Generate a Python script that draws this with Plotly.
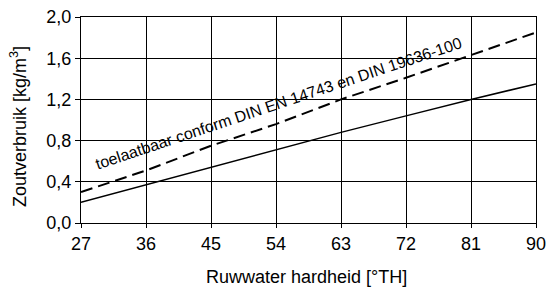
import plotly.graph_objects as go

hardness = [27, 36, 45, 54, 63, 72, 81, 90]
salt_actual = [0.20, 0.37, 0.54, 0.71, 0.88, 1.04, 1.20, 1.35]
salt_allowed = [0.30, 0.51, 0.75, 0.96, 1.20, 1.41, 1.63, 1.85]
x_ticks = [27, 36, 45, 54, 63, 72, 81, 90]
y_ticks = [0.0, 0.4, 0.8, 1.2, 1.6, 2.0]
y_tick_labels = ["0,0", "0,4", "0,8", "1,2", "1,6", "2,0"]
note = "toelaatbaar conform DIN EN 14743 en DIN 19636-100"
x_title = "Ruwwater hardheid [°TH]"
y_title = "Zoutverbruik [kg/m<sup>3</sup>]"

FONT = "Liberation Sans, Arial, sans-serif"

fig = go.Figure()
fig.add_trace(go.Scatter(x=hardness, y=salt_allowed, mode="lines",
                         line=dict(color="black", width=2, dash="12px,6px"),
                         showlegend=False))
fig.add_trace(go.Scatter(x=hardness, y=salt_actual, mode="lines",
                         line=dict(color="black", width=1.5),
                         showlegend=False))

fig.add_annotation(x=54.3, y=1.16, text=note, showarrow=False, textangle=-18.5,
                   font=dict(family=FONT, size=16, color="black"))
fig.add_annotation(xref="paper", yref="paper", x=0, y=0.5, xshift=-63, yshift=-7,
                   text=y_title, showarrow=False, textangle=-90,
                   xanchor="center", yanchor="middle",
                   font=dict(family=FONT, size=18, color="black"))
fig.add_annotation(xref="paper", yref="paper", x=0.5, y=0, yshift=-54, xshift=-2,
                   text=x_title, showarrow=False,
                   xanchor="center", yanchor="middle",
                   font=dict(family=FONT, size=18, color="black"))

fig.update_layout(
    width=548, height=289,
    margin=dict(l=81, r=12, t=17, b=66),
    paper_bgcolor="white", plot_bgcolor="white",
    font=dict(family=FONT, size=18, color="black"),
    hovermode=False,
)
fig.update_xaxes(range=[27, 90], tickvals=x_ticks, ticktext=[str(v) for v in x_ticks],
                 showgrid=True, gridcolor="black", gridwidth=1,
                 showline=True, linecolor="black", linewidth=1, mirror=True,
                 ticks="outside", ticklen=4, tickcolor="black",
                 zeroline=False, automargin=False, ticklabeloverflow="allow")
fig.update_yaxes(range=[0, 2.0], tickvals=y_ticks, ticktext=y_tick_labels,
                 showgrid=True, gridcolor="black", gridwidth=1,
                 showline=True, linecolor="black", linewidth=1, mirror=True,
                 ticks="outside", ticklen=5, tickcolor="black",
                 zeroline=False, automargin=False, ticklabeloverflow="allow")

# remove the browser's default 8px body margin so the 548x289 figure fills the window
fig.write_html("out.html", config={"displayModeBar": False},
               post_script="document.body.style.margin='0';document.body.style.overflow='hidden';")
